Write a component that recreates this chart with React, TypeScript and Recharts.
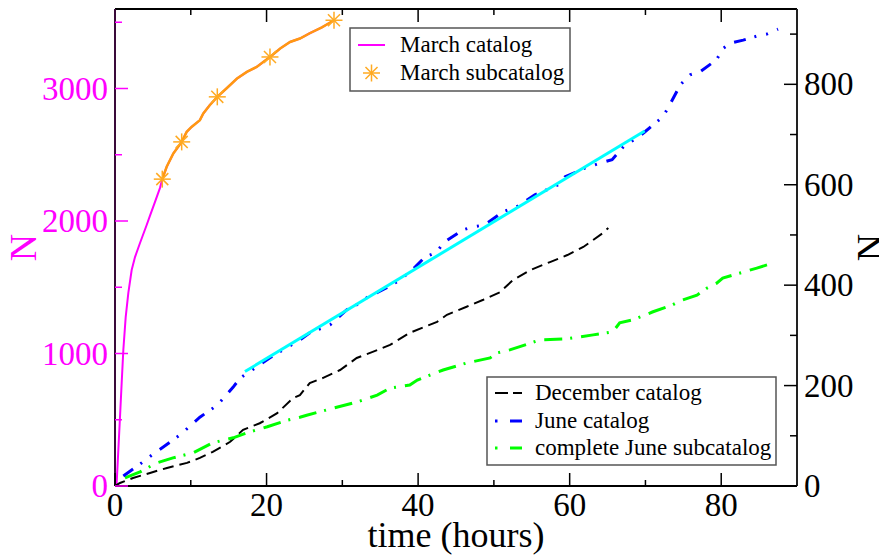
import React from 'react';
import { ComposedChart, Line, XAxis, YAxis, Label } from 'recharts';

const FONT = '"Liberation Serif", "Times New Roman", serif';

// March catalog (left axis)
const marchTimes = [0, 0.22, 0.44, 0.66, 0.88, 1.1, 1.41, 1.76, 2.2, 2.64, 3.3, 4.18, 4.62, 5.28, 5.94, 6.24, 6.82, 7.7, 8.8, 9.46, 10.1, 11.2, 11.65, 12.5, 13.5, 14.7, 16.1, 17.4, 18.7, 19.6, 20.45, 21.8, 23.1, 24.4, 25.7, 27.3, 28.9];
const marchValues = [0, 23, 272, 521, 777, 1026, 1275, 1457, 1630, 1728, 1834, 1970, 2040, 2145, 2250, 2316, 2409, 2510, 2597, 2673, 2710, 2761, 2811, 2874, 2937, 3000, 3075, 3125, 3163, 3201, 3238, 3302, 3351, 3377, 3417, 3462, 3515];

// March subcatalog (left axis)
const marchSubTimes = [6.24, 6.82, 7.7, 8.8, 9.46, 10.1, 11.2, 11.65, 12.5, 13.5, 14.7, 16.1, 17.4, 18.7, 19.6, 20.45, 21.8, 23.1, 24.4, 25.7, 27.3, 28.9];
const marchSubValues = [2316, 2409, 2510, 2597, 2673, 2710, 2761, 2811, 2874, 2937, 3000, 3075, 3125, 3163, 3201, 3238, 3302, 3351, 3377, 3417, 3462, 3515];
const marchStarTimes = [6.24, 8.8, 13.5, 20.45, 28.9];
const marchStarValues = [2316, 2597, 2937, 3238, 3515];

// December catalog (right axis)
const decemberTimes = [0, 0.66, 2.38, 4.62, 6.86, 9.5, 11.2, 12.9, 15.2, 16.9, 19.1, 21.4, 23.5, 24.4, 25.7, 27.4, 29.7, 31.9, 34.0, 36.3, 38.9, 42.5, 43.8, 46.4, 48.6, 50.8, 52.5, 54.8, 57.4, 59.7, 61.8, 63.1, 64.4, 65.1];
const decemberValues = [0, 6, 16, 26, 36, 46, 56, 68, 88, 112, 125, 145, 175, 181, 205, 215, 231, 255, 267, 281, 305, 327, 341, 357, 371, 386, 410, 430, 446, 460, 476, 490, 504, 514];

// June catalog (right axis)
const juneTimes = [1.1, 3.7, 4.9, 6.6, 8.6, 11.2, 13.5, 15.6, 16.5, 18.5, 20.5, 22.5, 24.4, 25.7, 28.4, 30.6, 32.3, 33.3, 34.7, 36.0, 37.6, 39.6, 40.9, 42.5, 43.3, 45.9, 47.2, 48.8, 51.2, 53.0, 55.4, 57.0, 58.5, 59.4, 61.0, 62.0, 64.0, 65.6, 67.3, 68.9, 69.9, 71.3, 72.3, 73.2, 74.6, 75.9, 77.2, 79.4, 80.2, 81.2, 82.9, 84.7, 86.0, 87.5];
const juneValues = [20, 48, 62, 80, 102, 137, 161, 197, 215, 235, 256, 274, 291, 305, 321, 351, 364, 376, 386, 396, 410, 436, 456, 466, 484, 510, 516, 520, 546, 556, 580, 590, 600, 616, 626, 633, 643, 650, 679, 693, 705, 723, 735, 759, 799, 819, 825, 849, 871, 882, 888, 896, 900, 910];

// Linear fit to June catalog (right axis)
const fitTimes = [17.15, 69.9];
const fitValues = [228, 707];

// complete June subcatalog (right axis)
const juneSubTimes = [1.32, 3.3, 5.5, 7.65, 10.3, 12.9, 15.6, 17.4, 20.1, 22.7, 24.4, 25.3, 28.8, 31.9, 34.6, 36.3, 38.9, 39.9, 43.3, 46.4, 49.5, 50.4, 52.1, 56.1, 59.6, 63.1, 65.7, 66.6, 68.4, 71.0, 73.6, 74.6, 76.8, 78.1, 79.4, 80.2, 81.5, 82.9, 84.7, 86.8];
const juneSubValues = [16, 28, 46, 56, 66, 86, 96, 106, 118, 131, 137, 141, 155, 167, 181, 195, 201, 211, 231, 245, 255, 265, 271, 291, 293, 301, 307, 325, 331, 347, 361, 369, 380, 394, 404, 414, 420, 426, 434, 444];

const xTicks = [0, 10, 20, 30, 40, 50, 60, 70, 80, 90];
const leftTicks = [0, 500, 1000, 1500, 2000, 2500, 3000, 3500];
const rightTicks = [0, 100, 200, 300, 400, 500, 600, 700, 800, 900];

const rows = (ts: number[], vs: number[]) => ts.map((t, i) => ({ t, n: vs[i] }));

const MAGENTA = '#ff00ff';
const ORANGE = '#ff9a10';
const STAR = '#ffaa22';
const BLUE = '#0000ff';
const GREEN = '#00ff00';
const CYAN = '#00ffff';

const Star = ({ cx, cy, r = 8.5, color = STAR }: any) => {
  const d = r * 0.7071;
  return (
    <g stroke={color} strokeWidth={1.5}>
      <line x1={cx - r} y1={cy} x2={cx + r} y2={cy} />
      <line x1={cx} y1={cy - r} x2={cx} y2={cy + r} />
      <line x1={cx - d} y1={cy - d} x2={cx + d} y2={cy + d} />
      <line x1={cx - d} y1={cy + d} x2={cx + d} y2={cy - d} />
    </g>
  );
};

const LeftTick = (p: any) => {
  const { x, y, payload } = p;
  const v = payload.value;
  const major = v % 1000 === 0;
  return (
    <g>
      <line x1={x} x2={x + (major ? 13 : 7)} y1={y} y2={y} stroke={MAGENTA} strokeWidth={1.5} />
      {major && (
        <text x={x - 7} y={y} dy={11} textAnchor="end" fill={MAGENTA} fontSize={33} fontFamily={FONT}>
          {v}
        </text>
      )}
    </g>
  );
};

const RightTick = (p: any) => {
  const { x, y, payload } = p;
  const v = payload.value;
  const major = v % 200 === 0;
  return (
    <g>
      <line x1={x} x2={x - (major ? 13 : 7)} y1={y} y2={y} stroke="#000" strokeWidth={1.5} />
      {major && (
        <text x={x + 7} y={y} dy={11} textAnchor="start" fill="#000" fontSize={33} fontFamily={FONT}>
          {v}
        </text>
      )}
    </g>
  );
};

const BottomTick = (p: any) => {
  const { x, y, payload } = p;
  const v = payload.value;
  if (v >= 90) return <g />;
  const major = v % 20 === 0;
  return (
    <g>
      <line x1={x} x2={x} y1={y} y2={y - (major ? 13 : 6)} stroke="#000" strokeWidth={1.5} />
      {major && (
        <text x={x} y={y + 30} textAnchor="middle" fill="#000" fontSize={33} fontFamily={FONT}>
          {v}
        </text>
      )}
    </g>
  );
};

const TopTick = (p: any) => {
  const { x, y, payload } = p;
  const v = payload.value;
  if (v <= 0 || v >= 90) return <g />;
  const major = v % 20 === 0;
  return <line x1={x} x2={x} y1={y} y2={y + (major ? 13 : 6)} stroke="#000" strokeWidth={1.5} />;
};

const Legends = () => (
  <svg width={879} height={547} style={{ position: 'absolute', left: 0, top: 0, pointerEvents: 'none' }}>
    <g fontFamily={FONT} fontSize={23} fill="#000">
      <rect x={342} y={20} width={220} height={63} fill="#fff" stroke="#555" strokeWidth={1.5} />
      <line x1={350} x2={377} y1={37} y2={37} stroke={MAGENTA} strokeWidth={2} />
      <text x={392} y={44}>March catalog</text>
      <Star cx={363.5} cy={65} />
      <text x={392} y={72}>March subcatalog</text>

      <rect x={479} y={369} width={289} height={88} fill="#fff" stroke="#555" strokeWidth={1.5} />
      <line x1={487} x2={500} y1={385} y2={385} stroke="#000" strokeWidth={2} />
      <line x1={505} x2={514} y1={385} y2={385} stroke="#000" strokeWidth={2} />
      <text x={527} y={392}>December catalog</text>
      <line x1={487} x2={489.5} y1={413} y2={413} stroke={BLUE} strokeWidth={3} />
      <line x1={502} x2={514} y1={413} y2={413} stroke={BLUE} strokeWidth={3} />
      <text x={527} y={420}>June catalog</text>
      <line x1={487} x2={489.5} y1={440} y2={440} stroke={GREEN} strokeWidth={3} />
      <line x1={502} x2={514} y1={440} y2={440} stroke={GREEN} strokeWidth={3} />
      <text x={527} y={447}>complete June subcatalog</text>
    </g>
  </svg>
);

export default function App() {
  return (
    <div style={{ position: 'relative', width: 879, height: 547, background: '#fff' }}>
      <ComposedChart width={879} height={547} margin={{ top: 0, right: 0, bottom: 0, left: 0 }}>
        <XAxis
          xAxisId="b"
          type="number"
          dataKey="t"
          domain={[0, 90]}
          allowDataOverflow
          ticks={xTicks}
          interval={0}
          height={69}
          tickLine={false}
          tickSize={0}
          tickMargin={0}
          tick={BottomTick}
          axisLine={{ stroke: '#000', strokeWidth: 2 }}
        >
          <Label
            content={({ viewBox }: any) => (
              <text x={viewBox.x + viewBox.width / 2} y={viewBox.y + 61} textAnchor="middle" fontSize={36} fontFamily={FONT} fill="#000">
                time (hours)
              </text>
            )}
          />
        </XAxis>
        <XAxis
          xAxisId="top"
          orientation="top"
          type="number"
          dataKey="t"
          domain={[0, 90]}
          allowDataOverflow
          ticks={xTicks}
          interval={0}
          height={1}
          tickLine={false}
          tickSize={0}
          tickMargin={0}
          tick={TopTick}
          axisLine={{ stroke: '#000', strokeWidth: 2 }}
        />
        <YAxis
          yAxisId="left"
          type="number"
          domain={[0, 3600]}
          allowDataOverflow
          ticks={leftTicks}
          interval={0}
          width={107}
          tickLine={false}
          tickSize={0}
          tickMargin={0}
          tick={LeftTick}
          axisLine={{ stroke: '#3a0a3a', strokeWidth: 2 }}
        >
          <Label
            content={({ viewBox }: any) => {
              const cx = viewBox.x + 16;
              const cy = viewBox.y + viewBox.height / 2;
              return (
                <text x={cx} y={cy} transform={`rotate(-90 ${cx} ${cy})`} dy={12} textAnchor="middle" fontSize={38} fontFamily={FONT} fill={MAGENTA}>
                  N
                </text>
              );
            }}
          />
        </YAxis>
        <YAxis
          yAxisId="right"
          orientation="right"
          type="number"
          domain={[0, 950]}
          allowDataOverflow
          ticks={rightTicks}
          interval={0}
          width={90}
          tickLine={false}
          tickSize={0}
          tickMargin={0}
          tick={RightTick}
          axisLine={{ stroke: '#222', strokeWidth: 2 }}
        >
          <Label
            content={({ viewBox }: any) => {
              const cx = viewBox.x + 74;
              const cy = viewBox.y + viewBox.height / 2;
              return (
                <text x={cx} y={cy} transform={`rotate(-90 ${cx} ${cy})`} dy={12} textAnchor="middle" fontSize={38} fontFamily={FONT} fill="#000">
                  N
                </text>
              );
            }}
          />
        </YAxis>

        <Line xAxisId="b" yAxisId="left" data={rows(marchTimes, marchValues)} dataKey="n" type="linear" stroke={MAGENTA} strokeWidth={2} dot={false} isAnimationActive={false} />
        <Line xAxisId="b" yAxisId="left" data={rows(marchSubTimes, marchSubValues)} dataKey="n" type="linear" stroke={ORANGE} strokeWidth={2.5} dot={false} isAnimationActive={false} />
        <Line
          xAxisId="b"
          yAxisId="left"
          data={rows(marchStarTimes, marchStarValues)}
          dataKey="n"
          stroke="none"
          dot={(p: any) => <Star key={`st${p.index}`} cx={p.cx} cy={p.cy} />}
          isAnimationActive={false}
        />
        <Line xAxisId="b" yAxisId="right" data={rows(decemberTimes, decemberValues)} dataKey="n" type="linear" stroke="#000" strokeWidth={2} strokeDasharray="11 6" dot={false} isAnimationActive={false} />
        <Line xAxisId="b" yAxisId="right" data={rows(juneSubTimes, juneSubValues)} dataKey="n" type="linear" stroke={GREEN} strokeWidth={3} strokeDasharray="18 8 2 9" dot={false} isAnimationActive={false} />
        <Line xAxisId="b" yAxisId="right" data={rows(juneTimes, juneValues)} dataKey="n" type="linear" stroke={BLUE} strokeWidth={3} strokeDasharray="12 9 2 10 2 10" dot={false} isAnimationActive={false} />
        <Line xAxisId="b" yAxisId="right" data={rows(fitTimes, fitValues)} dataKey="n" type="linear" stroke={CYAN} strokeWidth={3} dot={false} isAnimationActive={false} />
      </ComposedChart>
      <Legends />
    </div>
  );
}
